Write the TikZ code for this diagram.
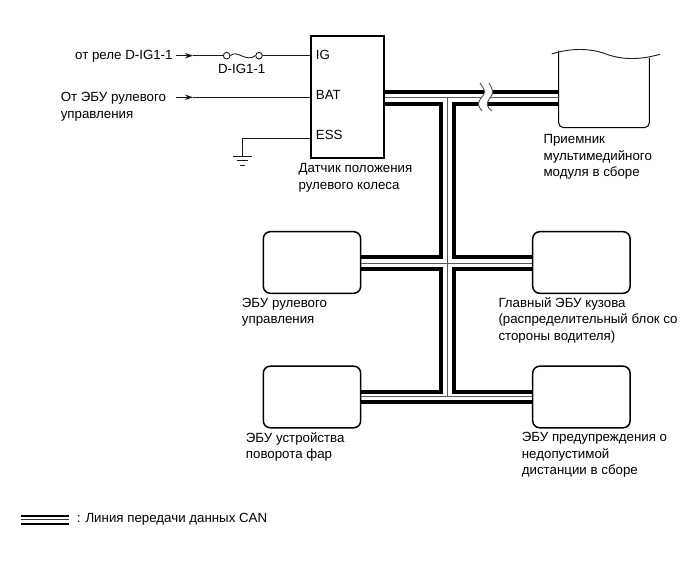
\documentclass[tikz,border=0pt]{standalone}
\usepackage{fontspec}
\setmainfont{Liberation Sans}
\usetikzlibrary{arrows.meta,positioning,calc}

\tikzset{
    wire/.style={line width=0.9pt, black!90},
    inarrow/.style={wire, -{Stealth[length=8pt, width=5.5pt]}},
    canthick/.style={line width=3.9pt, black},
    canthin/.style={line width=1pt, black!65},
    unitbox/.style={draw, line width=1.2pt, minimum width=73pt, minimum height=122pt},
    ecubox/.style={draw, line width=1.5pt, rounded corners=7pt, minimum width=97.4pt, minimum height=61.6pt},
    fusepin/.style={draw, wire, circle, inner sep=0pt, minimum size=6.6pt},
    lbl/.style={anchor=north west, align=left, inner sep=0pt, font=\fontsize{13.3pt}{16.4pt}\selectfont}
}

\begin{document}
\begin{tikzpicture}[x=1pt, y=-1pt]
    \useasboundingbox (0, 0) rectangle (689, 561);

    % Units
    \node[unitbox] (sensor) at (347.5, 97) {};
    \node[ecubox] (steerEcu) at (312, 262.5) {};
    \node[ecubox] (bodyEcu) at (581.4, 262.5) {};
    \node[ecubox] (lampEcu) at (312, 397) {};
    \node[ecubox] (distEcu) at (581.4, 397) {};

    % Receiver, open at the top
    \coordinate (recvW) at (558.7, 98);
    \draw[wire] (551.7, 54) .. controls (570, 48) and (590, 48) .. (606, 54)
        .. controls (622, 60) and (640, 60) .. (660, 54.3);
    \draw[line width=1pt, rounded corners=5pt] (558.7, 51) -- (558.7, 127.7) -- (649.3, 127.7) -- (649.3, 58);

    % CAN bus corners
    \coordinate (busT) at (447.3, 98);
    \coordinate (busM) at (447.3, 263.5);
    \coordinate (busB) at (447.3, 396.7);
    \coordinate (tl) at (441.3, 104);
    \coordinate (tr) at (453.7, 104);
    \coordinate (ml) at (441.3, 257);
    \coordinate (mr) at (453.7, 257);
    \coordinate (nl) at (441.3, 269.3);
    \coordinate (nr) at (453.7, 269.3);
    \coordinate (bl) at (441.3, 391.7);
    \coordinate (br) at (453.7, 391.7);
    \coordinate (bb) at (447.3, 402.3);

    % Thick outer lines
    \draw[canthick] (sensor.east |- 0, 92.3) -- (recvW |- 0, 92.3);
    \draw[canthick] (sensor.east |- tl) -- (tl) -- (ml) -- (steerEcu.east |- ml);
    \draw[canthick] (recvW |- tr) -- (tr) -- (mr) -- (bodyEcu.west |- mr);
    \draw[canthick] (steerEcu.east |- nl) -- (nl) -- (bl) -- (lampEcu.east |- bl);
    \draw[canthick] (bodyEcu.west |- nr) -- (nr) -- (br) -- (distEcu.west |- br);
    \draw[canthick] (lampEcu.east |- bb) -- (distEcu.west |- bb);

    % Thin middle lines
    \draw[canthin] (sensor.east |- busT) -- (recvW);
    \draw[canthin] (busT) -- (busB);
    \draw[canthin] (steerEcu.east |- busM) -- (bodyEcu.west |- busM);
    \draw[canthin] (lampEcu.east |- busB) -- (distEcu.west |- busB);

    % Break in the bus
    \fill[white] (480, 83) .. controls (486, 92) and (486, 92) .. (481, 98)
        .. controls (477, 104) and (478, 106) .. (482, 111)
        -- (492, 111) .. controls (486, 106) and (486, 104) .. (490, 98)
        .. controls (494, 92) and (493, 90) .. (489, 83) -- cycle;
    \draw[wire, black!70] (480, 83) .. controls (486, 92) and (486, 92) .. (481, 98)
        .. controls (477, 104) and (478, 106) .. (482, 111);
    \draw[wire, black!70] (489, 83) .. controls (493, 90) and (494, 92) .. (490, 98)
        .. controls (486, 104) and (486, 106) .. (492, 111);

    % IG input with fuse
    \coordinate (igFrom) at (176, 55.7);
    \coordinate (igMid) at (193, 55.7);
    \node[fusepin] (fuseL) at (226.7, 55.7) {};
    \node[fusepin] (fuseR) at (259, 55.7) {};
    \draw[inarrow] (igFrom) -- (igMid);
    \draw[wire] (igMid) -- (fuseL);
    \draw[wire] (fuseL.east) .. controls (237, 49) and (246, 63) .. (fuseR.west);
    \draw[wire] (fuseR) -- (fuseR -| sensor.west);

    % BAT input
    \coordinate (batFrom) at (176, 97.3);
    \coordinate (batMid) at (193, 97.3);
    \draw[inarrow] (batFrom) -- (batMid);
    \draw[wire] (batMid) -- (batMid -| sensor.west);

    % ESS to ground
    \coordinate (essEnd) at (242.7, 138);
    \coordinate (gnd) at (242.7, 156);
    \draw[wire] (essEnd -| sensor.west) -- (essEnd) -- (gnd);
    \draw[wire] ($(gnd)+(-9.7, 0)$) -- ($(gnd)+(9.7, 0)$);
    \draw[wire] ($(gnd)+(-5.7, 4.6)$) -- ($(gnd)+(5.7, 4.6)$);
    \draw[wire] ($(gnd)+(-2.7, 9)$) -- ($(gnd)+(2.7, 9)$);

    % Legend
    \coordinate (legL) at (21, 520);
    \coordinate (legR) at (69, 520);
    \draw[line width=2pt] ($(legL)+(0, -4)$) -- ($(legR)+(0, -4)$);
    \draw[line width=1pt, black!80] (legL) -- (legR);
    \draw[line width=2pt] ($(legL)+(0, 4.3)$) -- ($(legR)+(0, 4.3)$);

    % Labels
    \node[lbl] (igSrc) at (75, 50) {от реле D-IG1-1};
    \node[lbl] (batSrc) at (60.6, 92.5) {От ЭБУ рулевого\\управления};
    \node[lbl, anchor=north] (fuseName) at (241.7, 64) {D-IG1-1};
    \node[lbl] (pinIG) at (315.7, 50.5) {IG};
    \node[lbl] (pinBAT) at (315.7, 90.5) {BAT};
    \node[lbl] (pinESS) at (315.7, 130.5) {ESS};
    \node[lbl] (sensorName) at (298.3, 163.5) {Датчик положения\\рулевого колеса};
    \node[lbl] (recvName) at (543.3, 134.5) {Приемник\\мультимедийного\\модуля в сборе};
    \node[lbl] (steerName) at (241.7, 298) {ЭБУ рулевого\\управления};
    \node[lbl] (bodyName) at (498.3, 297.5) {Главный ЭБУ кузова\\(распределительный блок со\\стороны водителя)};
    \node[lbl] (lampName) at (245.7, 432) {ЭБУ устройства\\поворота фар};
    \node[lbl] (distName) at (521.7, 432.5) {ЭБУ предупреждения о\\недопустимой\\дистанции в сборе};
    \node[lbl] (legName) at (76.7, 513) {: Линия передачи данных CAN};
\end{tikzpicture}
\end{document}
